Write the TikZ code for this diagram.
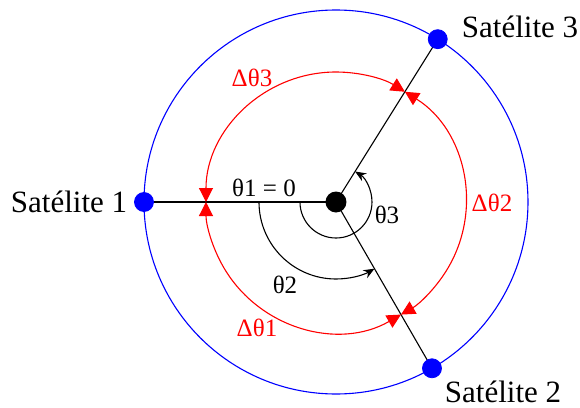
\documentclass[tikz,border=0pt]{standalone}
\usepackage{fontspec}
\setmainfont{Liberation Serif}
\usetikzlibrary{arrows.meta}
\begin{document}
\begin{tikzpicture}[x=0.5pt,y=0.5pt,
  satlabel/.style={font=\fontsize{15.5pt}{18pt}\selectfont, inner sep=0pt},
  anglabel/.style={font=\fontsize{12.5pt}{15pt}\selectfont, inner sep=0pt},
  redlabel/.style={anglabel, text=red},
  satdot/.style={circle, fill=blue, draw=blue, inner sep=0pt, minimum size=9.5pt},
  hubdot/.style={circle, fill=black, inner sep=0pt, minimum size=10.5pt},
  spoke/.style={black, line width=0.55pt},
  orbit/.style={blue, line width=0.55pt},
  sector/.style={red, line width=0.55pt, {Triangle[length=7pt,width=7pt]}-{Triangle[length=7pt,width=7pt]}},
  angarc/.style={black, line width=0.55pt, -{Stealth[length=5.5pt,width=4.5pt]}}
]
\useasboundingbox (-336,-206) rectangle (244,202);
\coordinate (c) at (0,0);
\coordinate (p1) at (180:192);
\coordinate (p2) at (-60:192);
\coordinate (p3) at (58:192);
\draw[orbit] (c) circle[radius=192];
\draw[spoke] (c) -- (p1);
\draw[spoke] (c) -- (p2);
\draw[spoke] (c) -- (p3);
\draw[sector] (180:130) arc[start angle=180,end angle=58,radius=130];
\draw[sector] (58:130) arc[start angle=58,end angle=-60,radius=130];
\draw[sector] (-60:130) arc[start angle=-60,end angle=-180,radius=130];
\draw[angarc] (180:77) arc[start angle=180,end angle=300,radius=77];
\draw[angarc] (180:36) arc[start angle=180,end angle=418,radius=36];
\node[hubdot] (hub) at (c) {};
\node[satdot] (s1) at (p1) {};
\node[satdot] (s2) at (p2) {};
\node[satdot] (s3) at (p3) {};
\node[satlabel] (l1) at (-267,0) {Satélite 1};
\node[satlabel] (l2) at (167,-190) {Satélite 2};
\node[satlabel] (l3) at (184,175) {Satélite 3};
\node[anglabel] (t1) at (-72,14) {θ1 = 0};
\node[anglabel] (t2) at (-51,-83) {θ2};
\node[anglabel] (t3) at (51,-13) {θ3};
\node[redlabel] (d1) at (-79,-126) {Δθ1};
\node[redlabel] (d2) at (156,-1) {Δθ2};
\node[redlabel] (d3) at (-84,124) {Δθ3};
\end{tikzpicture}
\end{document}
